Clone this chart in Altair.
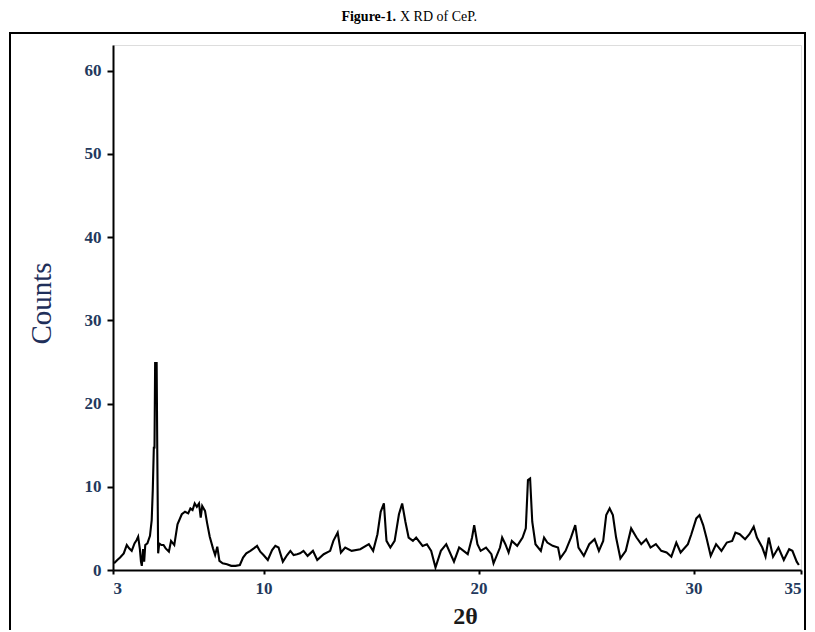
import altair as alt
import pandas as pd

two_theta = [3.05, 3.2, 3.33, 3.5, 3.64, 3.75, 3.87, 4.0, 4.1, 4.17, 4.25, 4.3, 4.34, 4.4, 4.45, 4.5, 4.6, 4.72, 4.8, 4.85,
             4.9, 4.93, 4.96, 5.0, 5.03, 5.06, 5.1, 5.15, 5.25, 5.35, 5.45, 5.6, 5.7, 5.85, 6.0, 6.2, 6.35, 6.5, 6.6, 6.7,
             6.8, 6.9, 7.0, 7.08, 7.15, 7.28, 7.38, 7.5, 7.65, 7.75, 7.85, 7.95, 8.1, 8.3, 8.5, 8.7, 8.9, 9.05, 9.2, 9.39,
             9.55, 9.7, 9.85, 10.0, 10.2, 10.4, 10.55, 10.7, 10.9, 11.1, 11.25, 11.4, 11.56, 11.7, 11.86, 12.05, 12.3, 12.5, 12.8, 13.1,
             13.25, 13.45, 13.6, 13.8, 14.1, 14.5, 14.9, 15.1, 15.3, 15.45, 15.6, 15.72, 15.9, 16.1, 16.3, 16.45, 16.6, 16.75, 16.95, 17.1,
             17.4, 17.6, 17.8, 18.0, 18.25, 18.5, 18.86, 19.1, 19.5, 19.7, 19.8, 19.95, 20.1, 20.35, 20.6, 20.7, 21.0, 21.1, 21.25, 21.4,
             21.55, 21.8, 22.05, 22.2, 22.3, 22.4, 22.5, 22.65, 22.9, 23.05, 23.2, 23.45, 23.7, 23.8, 24.05, 24.3, 24.5, 24.65, 24.9, 25.15,
             25.4, 25.6, 25.8, 25.94, 26.1, 26.25, 26.4, 26.6, 26.85, 27.1, 27.35, 27.57, 27.8, 28.0, 28.25, 28.5, 28.75, 28.97, 29.2, 29.4,
             29.74, 29.9, 30.13, 30.28, 30.45, 30.6, 30.8, 31.05, 31.3, 31.55, 31.8, 31.95, 32.15, 32.4, 32.6, 32.8, 32.95, 33.2, 33.35, 33.5,
             33.7, 33.95, 34.2, 34.45, 34.6, 34.8, 34.9]
counts = [0.8, 1.2, 1.5, 2.0, 3.0, 2.6, 2.3, 3.2, 3.6, 4.0, 2.5, 1.0, 0.5, 2.5, 1.0, 3.0, 3.2, 4.1, 6.0, 9.6,
          14.8, 14.6, 25.0, 24.0, 25.0, 14.0, 2.0, 3.2, 3.0, 3.0, 2.6, 2.2, 3.5, 3.0, 5.5, 6.7, 7.0, 6.8, 7.4, 7.2,
          8.0, 7.6, 8.0, 6.3, 7.7, 7.1, 5.6, 4.0, 2.6, 1.8, 2.8, 1.1, 0.8, 0.7, 0.5, 0.5, 0.6, 1.5, 2.0, 2.3,
          2.6, 2.9, 2.2, 1.8, 1.2, 2.4, 2.9, 2.7, 1.0, 1.8, 2.3, 1.8, 1.9, 2.0, 2.3, 1.7, 2.3, 1.2, 1.9, 2.3,
          3.5, 4.5, 2.1, 2.7, 2.3, 2.5, 3.1, 2.3, 4.3, 7.0, 8.0, 3.5, 2.7, 3.5, 6.7, 8.0, 5.8, 3.9, 3.5, 3.9,
          2.9, 3.1, 2.3, 0.3, 2.3, 3.1, 1.0, 2.7, 1.9, 3.9, 5.4, 3.1, 2.3, 2.7, 1.9, 0.8, 2.7, 3.9, 3.1, 2.1,
          3.5, 2.9, 3.9, 5.0, 10.8, 11.0, 5.8, 3.1, 2.3, 3.9, 3.3, 2.9, 2.7, 1.4, 2.3, 3.9, 5.4, 2.7, 1.7, 3.1,
          3.7, 2.3, 3.5, 6.6, 7.4, 6.6, 3.9, 1.4, 2.3, 5.0, 3.9, 3.1, 3.7, 2.7, 3.1, 2.3, 2.1, 1.6, 3.3, 2.1,
          3.1, 4.3, 6.2, 6.6, 5.4, 3.9, 1.7, 3.1, 2.3, 3.3, 3.5, 4.5, 4.3, 3.7, 4.3, 5.2, 3.9, 2.7, 1.6, 3.9,
          1.6, 2.7, 1.2, 2.5, 2.3, 1.0, 0.6]

x_ticks = [3, 10, 20, 30, 35]
y_ticks = [0, 10, 20, 30, 40, 50, 60]
title_bold = "Figure-1."
title_rest = "X RD of CeP."

df = pd.DataFrame({"two_theta": two_theta, "counts": counts})
one = pd.DataFrame({"k": [0]})

W, H = 688, 525
label_color = "#23395d"

line = alt.Chart(df).mark_line(color="black", strokeWidth=2.1, clip=True).encode(
    x=alt.X("two_theta:Q", scale=alt.Scale(domain=[3, 35], nice=False, zero=False),
            axis=alt.Axis(values=x_ticks, title="2θ", grid=False, domainColor="black", domainWidth=2,
                          tickColor="black", tickWidth=2, tickSize=4, labelFont="Liberation Serif",
                          labelFontWeight="bold", labelFontSize=17, labelColor=label_color, labelPadding=6,
                          titleFont="Liberation Serif", titleFontWeight="bold", titleFontSize=24,
                          titleColor="#1a1a1a", titleX=352, titleY=46, titleBaseline="middle")),
    y=alt.Y("counts:Q", scale=alt.Scale(domain=[0, 63.1], nice=False),
            axis=alt.Axis(values=y_ticks, title="Counts", grid=False, domainColor="black", domainWidth=2,
                          tickColor="black", tickWidth=2, tickSize=6, labelFont="Liberation Serif",
                          labelFontWeight="bold", labelFontSize=17, labelColor=label_color, labelPadding=6,
                          titleFont="Liberation Serif", titleFontWeight="normal", titleFontSize=29,
                          titleColor="#1f2f5a", titleX=-72, titleY=258, titleAngle=270,
                          titleAlign="center", titleBaseline="middle")),
)

t1 = alt.Chart(one).mark_text(font="Liberation Serif", fontWeight="bold", fontSize=14, align="right",
                              baseline="middle", color="black").encode(
    x=alt.value(283), y=alt.value(-28), text=alt.value(title_bold))
t2 = alt.Chart(one).mark_text(font="Liberation Serif", fontSize=14, align="left",
                              baseline="middle", color="black").encode(
    x=alt.value(287), y=alt.value(-28), text=alt.value(title_rest))
frame = alt.Chart(one).mark_rect(fill=None, stroke="black", strokeWidth=2).encode(
    x=alt.value(-103), x2=alt.value(692), y=alt.value(-12), y2=alt.value(600))

chart = alt.layer(frame, line, t1, t2).properties(
    width=W, height=H,
    autosize=alt.AutoSizeParams(type="none"),
    padding={"left": 105, "top": 37, "right": 6, "bottom": 60},
).configure_view(stroke="black", strokeWidth=2).configure(background="white")

chart.save("out.html", embed_options={"renderer": "svg", "actions": False})
